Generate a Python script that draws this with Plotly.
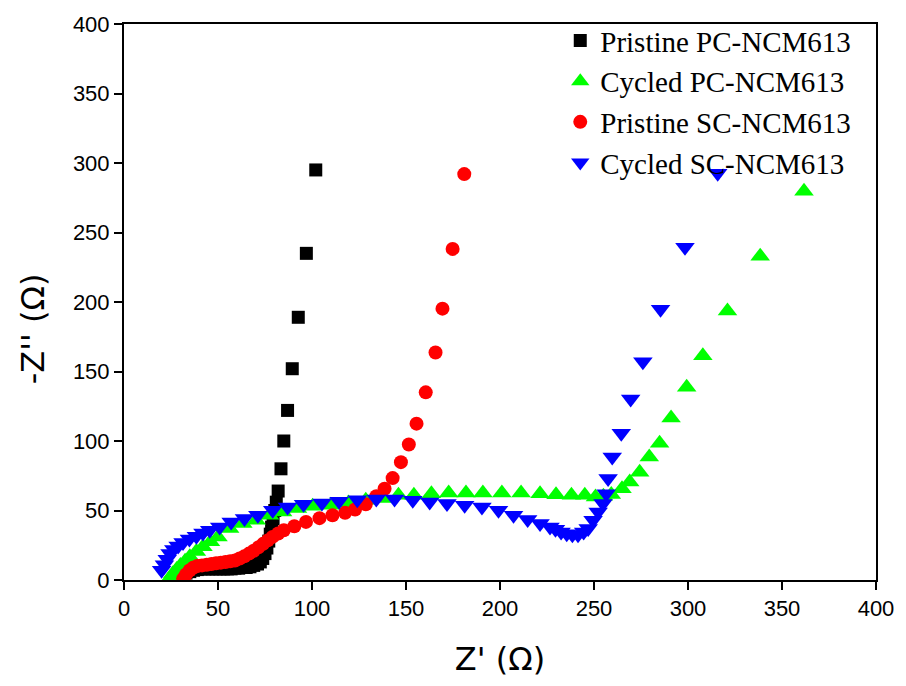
import plotly.graph_objects as go

# Pristine PC-NCM613
pc_pristine_x = [29, 31, 33, 35, 37, 39, 41, 43, 45, 47, 49, 51, 53, 55, 57, 59, 61, 63, 65, 67, 69, 71,
                 72.5, 73.8, 75, 76, 77, 77.8, 78.5, 79.3, 80.2, 81, 82, 83.5, 85, 87, 89.5, 92.7, 97, 102]
pc_pristine_y = [1, 3, 5, 6, 7, 7.5, 8, 8, 8, 8, 8, 8, 8, 8, 8, 8.5, 8.5, 9, 9, 9.5, 10.5, 11.5,
                 13, 15.5, 19, 23, 28, 33, 38, 44, 50, 56, 64, 80, 100, 122, 152, 189, 235, 295]

# Cycled PC-NCM613
pc_cycled_x = [24.4, 26, 28, 30, 32.5, 35, 38.5, 42, 46, 50, 56.2, 63.2, 70.3, 77.4, 84.4, 92.3, 100.3,
               110, 119.4, 128.6, 137.4, 146, 154.2, 163.5, 172.7, 181.9, 190.9, 201, 211.2, 221.3,
               229.8, 238, 245.1, 250.8, 255, 259.2, 264.9, 269, 274.3, 279.4, 284.9, 291, 299.3,
               307.9, 321, 338.4, 361.7]
pc_cycled_y = [1.4, 4.5, 7.5, 10.5, 13.5, 16.7, 20.5, 24, 27.5, 31, 37, 40.6, 43, 46.6, 49, 51.4, 53,
               53.8, 55.4, 57.3, 58.6, 60.9, 60.9, 62.1, 62.6, 62.6, 62.6, 62.6, 62.6, 62.1,
               61.4, 60.9, 60.9, 59.7, 60.3, 61.6, 65.7, 70.5, 77.6, 88.4, 98.3, 116.6, 138.6,
               161.3, 193.5, 233, 279.6]

# Pristine SC-NCM613
sc_pristine_x = [31.5, 33, 35, 37, 39, 41.5, 44, 46.5, 49, 51.5, 54, 56.5, 59, 61.5, 64, 66.5, 69, 71.5,
                 74, 76.5, 79, 82, 85, 90.6, 96.8, 104, 110.9, 117.6, 122.9, 128.6, 134.2, 138.6,
                 142.9, 147.3, 151.5, 155.6, 160.5, 165.7, 169.4, 174.8, 181]
sc_pristine_y = [1, 4, 7, 9, 10, 10.5, 11, 11.5, 12, 12.5, 13, 13.5, 14, 15.5, 17, 19, 21, 23.5,
                 26, 28.5, 31, 33.5, 35.8, 38.7, 41.8, 44.5, 46.6, 48.3, 50.7, 54.5, 60.2, 65.7,
                 73.3, 84.8, 97.5, 112.5, 135, 163.7, 195.2, 238.2, 292]

# Cycled SC-NCM613
sc_cycled_x = [20, 21.5, 23, 24.5, 26.5, 28.8, 31.4, 34.8, 38.5, 42, 45.6, 50.9, 57, 64.1, 71.2, 79.1,
               87, 95.5, 105.3, 114.4, 124.1, 134.2, 143.9, 153.6, 162.6, 171.8, 181.2, 190.4,
               199.2, 207.2, 214.7, 221.3, 226.6, 229.5, 232.5, 235.5, 238.5, 241.5, 244.5, 246.9,
               249.5, 252.2, 254.8, 256.5, 257.5, 259.7, 264.5, 269.5, 276, 285.4, 298.4, 315.8]
sc_cycled_y = [7, 11, 15, 19, 22, 24.5, 27, 29.5, 31.5, 33.8, 35.8, 38.2, 41.8, 44.2, 46.6, 50.2,
               52.5, 54.5, 55.4, 56.6, 57.8, 58.3, 58.3, 57.3, 56.1, 55, 53.8, 52.5,
               50.2, 46.6, 43.5, 40.6, 38.2, 36.5, 34.6, 33.3, 32.6, 32.5, 34.5, 37,
               43, 49, 55, 62, 73, 88.5, 105.6, 130.2, 157, 194.8, 239.4, 292.7]

names = ["Pristine PC-NCM613", "Cycled PC-NCM613", "Pristine SC-NCM613", "Cycled SC-NCM613"]
x_ticks = [0, 50, 100, 150, 200, 250, 300, 350, 400]
y_ticks = [0, 50, 100, 150, 200, 250, 300, 350, 400]

series = [
    (pc_pristine_x, pc_pristine_y, names[0], "#000000", "square", 13),
    (pc_cycled_x, pc_cycled_y, names[1], "#00ff00", "triangle-up", 17),
    (sc_pristine_x, sc_pristine_y, names[2], "#ff0000", "circle", 14),
    (sc_cycled_x, sc_cycled_y, names[3], "#0000ff", "triangle-down", 17),
]

fig = go.Figure()
for xs, ys, nm, col, sym, sz in series:
    fig.add_trace(go.Scatter(x=xs, y=ys, name=nm, mode="markers",
                             marker=dict(color=col, symbol=sym, size=sz, line=dict(width=0))))

axis_common = dict(showgrid=False, zeroline=False, showline=True, linecolor="black", linewidth=2,
                   mirror=True, ticks="outside", ticklen=8, tickwidth=2, tickcolor="black",
                   tickfont=dict(family="Liberation Sans, Arial", size=22, color="black"))

title_font = dict(family="DejaVu Sans, Liberation Sans", size=32, color="black")

fig.update_layout(
    width=906, height=686,
    margin=dict(l=124, r=27, t=22, b=106),
    plot_bgcolor="white", paper_bgcolor="white",
    xaxis=dict(range=[0, 400], tickvals=x_ticks, **axis_common,
               title=dict(text="Z' (Ω)", font=title_font, standoff=27)),
    yaxis=dict(range=[0, 400], tickvals=y_ticks, **axis_common),
    legend=dict(x=(562 - 124) / 755, y=1.016, xanchor="left", yanchor="top", bgcolor="rgba(0,0,0,0)",
                font=dict(family="Liberation Serif, Times New Roman", size=29, color="black")),
    showlegend=True,
    annotations=[dict(text="-Z'' (Ω)", textangle=-90, xref="paper", yref="paper",
                      x=-(124 - 33) / 755, y=(580 - 328) / 558, xanchor="center", yanchor="middle",
                      showarrow=False, font=title_font)],
)

fig.write_html("out.html")
